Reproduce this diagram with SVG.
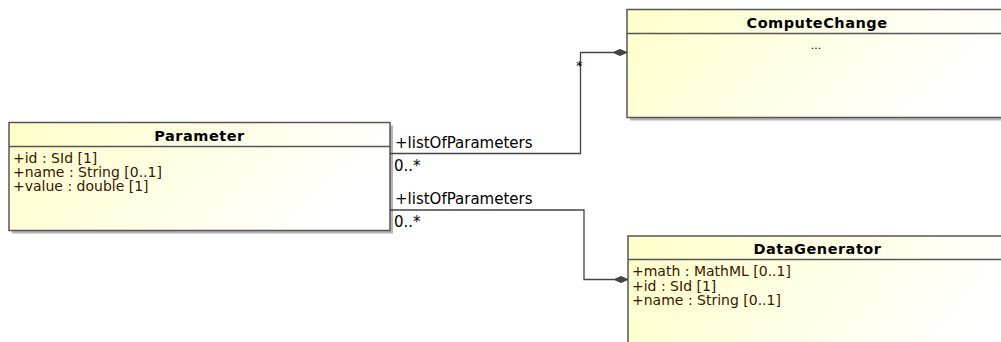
<svg xmlns="http://www.w3.org/2000/svg" width="1001" height="342" viewBox="0 0 1001 342">
<defs>
<linearGradient id="g" x1="0" y1="0" x2="1" y2="0.3">
<stop offset="0" stop-color="#FFFFC8"/>
<stop offset="1" stop-color="#FFFFFF"/>
</linearGradient>
</defs>
<style>
.sh{fill:#b4b4b4;stroke:none}
.box{fill:url(#g);stroke:#555;stroke-width:1.5}
.sep{stroke:#555;stroke-width:1.5}
.title{font-family:"DejaVu Sans",sans-serif;font-size:14.5px;font-weight:bold;fill:#000;text-anchor:middle;letter-spacing:0.5px}
.attr{font-family:"DejaVu Sans",sans-serif;font-size:14px;fill:#3a1500}
.lbl{font-family:"DejaVu Sans",sans-serif;font-size:15px;fill:#000}
.con{fill:none;stroke:#444;stroke-width:1.3}
.dia{fill:#444;stroke:#444;stroke-width:1}
</style>
<g id="node-Parameter">
<rect class="sh" x="12" y="125.5" width="381" height="108"/>
<rect class="box" x="9" y="122.5" width="381" height="108"/>
<line class="sep" x1="9" y1="146.5" x2="390" y2="146.5"/>
<text class="title" x="199.5" y="141">Parameter</text>
<text class="attr" x="13" y="163">+id : SId [1]</text>
<text class="attr" x="13" y="177">+name : String [0..1]</text>
<text class="attr" x="13" y="191">+value : double [1]</text>
</g>
<g id="node-ComputeChange">
<rect class="sh" x="630" y="12.5" width="381" height="108"/>
<rect class="box" x="627" y="9.5" width="381" height="108"/>
<line class="sep" x1="627" y1="33.5" x2="1008" y2="33.5"/>
<text class="title" x="817" y="28">ComputeChange</text>
<text class="attr" x="816" y="49" text-anchor="middle" style="fill:#000;font-size:11px">...</text>
</g>
<g id="node-DataGenerator">
<rect class="sh" x="631" y="239" width="381" height="150"/>
<rect class="box" x="628" y="236" width="381" height="150"/>
<line class="sep" x1="628" y1="259.5" x2="1009" y2="259.5"/>
<text class="title" x="817.5" y="254">DataGenerator</text>
<text class="attr" x="632" y="276">+math : MathML [0..1]</text>
<text class="attr" x="632" y="290.5">+id : SId [1]</text>
<text class="attr" x="632" y="305">+name : String [0..1]</text>
</g>
<g id="connectors">
<polyline class="con" points="390,153.5 580.5,153.5 580.5,52.5 613,52.5"/>
<polygon class="dia" points="627,52.5 620,49.5 613,52.5 620,55.5"/>
<text class="lbl" x="395" y="148">+listOfParameters</text>
<text class="lbl" x="394" y="171">0..*</text>
<text class="lbl" x="576" y="70" style="font-size:13px">*</text>
<polyline class="con" points="390,210 584,210 584,279.5 614,279.5"/>
<polygon class="dia" points="628,279.5 621,276.5 614,279.5 621,282.5"/>
<text class="lbl" x="395" y="204">+listOfParameters</text>
<text class="lbl" x="394" y="227">0..*</text>
</g>
</svg>
